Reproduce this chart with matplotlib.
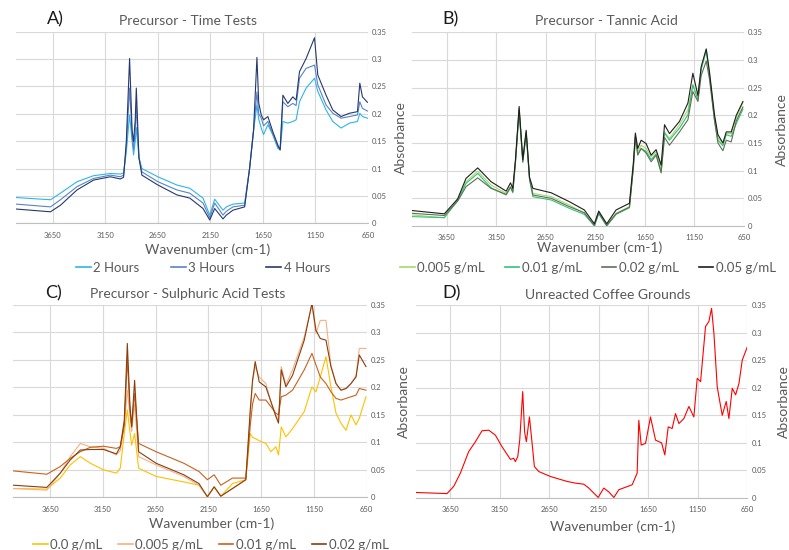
import matplotlib
matplotlib.use("Agg")
import matplotlib.pyplot as plt
from matplotlib.lines import Line2D

plt.rcParams["font.family"] = ["Lato", "DejaVu Sans"]

# ---------------- data ----------------
# Panel A: precursor, time tests
wn_a = [3995, 3672, 3577, 3419, 3261, 3102, 3007, 2976, 2950, 2919,
        2895, 2881, 2865, 2855, 2830, 2802, 2650, 2470, 2346, 2220,
        2156, 2109, 2030, 1998, 1935, 1824, 1777, 1739, 1707, 1690,
        1666, 1644, 1603, 1555, 1508, 1486, 1460, 1413, 1365, 1334,
        1302, 1239, 1159, 1128, 1049, 985, 906, 827, 750, 728,
        703, 655]
a_2h = [0.047, 0.043, 0.055, 0.076, 0.087, 0.091, 0.090, 0.092, 0.130, 0.198,
        0.150, 0.125, 0.150, 0.175, 0.120, 0.100, 0.085, 0.070, 0.064, 0.046,
        0.015, 0.044, 0.024, 0.030, 0.035, 0.037, 0.100, 0.170, 0.216, 0.190,
        0.174, 0.162, 0.180, 0.161, 0.137, 0.134, 0.186, 0.183, 0.186, 0.189,
        0.222, 0.247, 0.265, 0.241, 0.207, 0.186, 0.174, 0.183, 0.186, 0.201,
        0.195, 0.192]
a_3h = [0.035, 0.030, 0.043, 0.067, 0.082, 0.088, 0.085, 0.088, 0.140, 0.247,
        0.160, 0.135, 0.170, 0.215, 0.120, 0.094, 0.076, 0.061, 0.055, 0.037,
        0.010, 0.037, 0.015, 0.022, 0.030, 0.033, 0.100, 0.170, 0.240, 0.200,
        0.192, 0.178, 0.186, 0.163, 0.140, 0.136, 0.222, 0.213, 0.219, 0.215,
        0.265, 0.283, 0.289, 0.253, 0.216, 0.201, 0.192, 0.195, 0.198, 0.222,
        0.210, 0.205]
a_4h = [0.026, 0.021, 0.033, 0.061, 0.079, 0.085, 0.081, 0.084, 0.150, 0.301,
        0.170, 0.149, 0.190, 0.247, 0.120, 0.088, 0.070, 0.052, 0.046, 0.027,
        0.006, 0.027, 0.008, 0.015, 0.024, 0.030, 0.100, 0.170, 0.303, 0.220,
        0.198, 0.189, 0.195, 0.167, 0.143, 0.134, 0.234, 0.219, 0.231, 0.225,
        0.277, 0.301, 0.339, 0.271, 0.234, 0.207, 0.195, 0.201, 0.204, 0.256,
        0.231, 0.221]
labels_a = ["2 Hours", "3 Hours", "4 Hours"]

# Panel B: precursor, tannic acid
wn_b = [4004, 3674, 3539, 3455, 3337, 3202, 3050, 3006, 2983, 2956,
        2919, 2882, 2848, 2814, 2780, 2595, 2413, 2261, 2160, 2116,
        2035, 1941, 1806, 1766, 1746, 1722, 1688, 1638, 1587, 1537,
        1486, 1452, 1402, 1301, 1216, 1166, 1115, 1082, 1031, 998,
        947, 913, 863, 829, 779, 728, 661]
b_005 = [0.020, 0.015, 0.047, 0.080, 0.099, 0.074, 0.059, 0.072, 0.063, 0.117,
         0.212, 0.118, 0.170, 0.086, 0.059, 0.053, 0.038, 0.023, 0.002, 0.024,
         0.002, 0.023, 0.035, 0.110, 0.165, 0.134, 0.146, 0.140, 0.125, 0.134,
         0.104, 0.170, 0.158, 0.183, 0.210, 0.255, 0.231, 0.285, 0.316, 0.274,
         0.196, 0.160, 0.148, 0.167, 0.167, 0.196, 0.223]
b_01 = [0.017, 0.015, 0.046, 0.077, 0.095, 0.069, 0.056, 0.070, 0.060, 0.115,
        0.210, 0.117, 0.168, 0.084, 0.053, 0.047, 0.032, 0.021, 0.000, 0.022,
        0.000, 0.021, 0.033, 0.108, 0.160, 0.130, 0.140, 0.135, 0.120, 0.130,
        0.098, 0.168, 0.155, 0.177, 0.201, 0.255, 0.228, 0.283, 0.318, 0.272,
        0.190, 0.155, 0.145, 0.165, 0.162, 0.185, 0.211]
b_02 = [0.023, 0.019, 0.045, 0.071, 0.087, 0.068, 0.057, 0.070, 0.062, 0.115,
        0.208, 0.115, 0.168, 0.085, 0.056, 0.050, 0.035, 0.024, 0.001, 0.024,
        0.001, 0.022, 0.034, 0.105, 0.160, 0.128, 0.140, 0.132, 0.116, 0.128,
        0.096, 0.160, 0.146, 0.170, 0.192, 0.243, 0.225, 0.272, 0.298, 0.265,
        0.190, 0.150, 0.136, 0.155, 0.152, 0.190, 0.215]
b_05 = [0.028, 0.022, 0.049, 0.086, 0.105, 0.080, 0.063, 0.078, 0.068, 0.120,
        0.216, 0.120, 0.173, 0.088, 0.068, 0.060, 0.044, 0.029, 0.004, 0.027,
        0.004, 0.029, 0.041, 0.115, 0.168, 0.140, 0.155, 0.149, 0.128, 0.138,
        0.110, 0.183, 0.167, 0.189, 0.222, 0.276, 0.236, 0.288, 0.320, 0.278,
        0.200, 0.165, 0.150, 0.170, 0.170, 0.200, 0.225]
labels_b = ["0.005 g/mL", "0.01 g/mL", "0.02 g/mL", "0.05 g/mL"]

# Panel C: precursor, sulphuric acid tests
wn_c = [3998, 3682, 3555, 3460, 3365, 3270, 3144, 3023, 2986, 2948,
        2919, 2895, 2878, 2850, 2812, 2647, 2384, 2240, 2160, 2096,
        2033, 1922, 1796, 1754, 1732, 1707, 1669, 1606, 1558, 1511,
        1486, 1460, 1416, 1353, 1242, 1169, 1131, 1090, 1036, 989,
        941, 894, 846, 799, 751, 720, 657]
c_00 = [0.016, 0.015, 0.035, 0.059, 0.074, 0.062, 0.050, 0.044, 0.053, 0.116,
        0.159, 0.120, 0.095, 0.116, 0.053, 0.038, 0.028, 0.022, 0.001, 0.019,
        0.002, 0.025, 0.032, 0.116, 0.109, 0.107, 0.103, 0.098, 0.083, 0.092,
        0.077, 0.128, 0.110, 0.125, 0.156, 0.201, 0.192, 0.219, 0.256, 0.201,
        0.153, 0.135, 0.122, 0.150, 0.132, 0.144, 0.183]
c_005 = [0.016, 0.013, 0.044, 0.074, 0.098, 0.092, 0.089, 0.077, 0.085, 0.130,
         0.195, 0.150, 0.120, 0.170, 0.074, 0.059, 0.038, 0.022, 0.001, 0.019,
         0.002, 0.016, 0.032, 0.150, 0.210, 0.238, 0.219, 0.207, 0.174, 0.150,
         0.140, 0.238, 0.205, 0.232, 0.292, 0.350, 0.298, 0.322, 0.322, 0.240,
         0.207, 0.195, 0.198, 0.207, 0.222, 0.271, 0.271]
c_01 = [0.048, 0.042, 0.056, 0.071, 0.083, 0.091, 0.093, 0.089, 0.092, 0.130,
        0.253, 0.160, 0.130, 0.189, 0.098, 0.083, 0.062, 0.047, 0.032, 0.041,
        0.022, 0.035, 0.035, 0.130, 0.170, 0.189, 0.177, 0.177, 0.165, 0.153,
        0.150, 0.183, 0.186, 0.195, 0.232, 0.262, 0.241, 0.219, 0.207, 0.192,
        0.180, 0.177, 0.180, 0.183, 0.186, 0.198, 0.195]
c_02 = [0.022, 0.018, 0.044, 0.068, 0.086, 0.087, 0.087, 0.079, 0.092, 0.140,
        0.280, 0.170, 0.128, 0.213, 0.083, 0.062, 0.041, 0.025, 0.001, 0.019,
        0.002, 0.016, 0.032, 0.159, 0.213, 0.247, 0.210, 0.201, 0.174, 0.147,
        0.135, 0.232, 0.201, 0.222, 0.286, 0.353, 0.304, 0.289, 0.286, 0.238,
        0.207, 0.195, 0.198, 0.207, 0.219, 0.259, 0.238]
labels_c = ["0.0 g/mL", "0.005 g/mL", "0.01 g/mL", "0.02 g/mL"]

# Panel D: unreacted coffee grounds
wn_d = [3994, 3684, 3616, 3549, 3465, 3397, 3330, 3262, 3195, 3128,
        3043, 3010, 2993, 2969, 2949, 2919, 2900, 2882, 2851, 2824,
        2801, 2757, 2639, 2470, 2386, 2302, 2251, 2157, 2100, 2049,
        1998, 1948, 1813, 1763, 1746, 1722, 1678, 1628, 1577, 1516,
        1483, 1449, 1409, 1375, 1341, 1291, 1240, 1190, 1156, 1122,
        1072, 1038, 1011, 987, 954, 937, 903, 863, 836, 802,
        768, 734, 701, 650]
d_raw = [0.010, 0.008, 0.021, 0.045, 0.084, 0.102, 0.122, 0.123, 0.114, 0.093,
         0.070, 0.072, 0.066, 0.075, 0.105, 0.193, 0.120, 0.102, 0.147, 0.099,
         0.057, 0.048, 0.039, 0.030, 0.027, 0.025, 0.018, 0.001, 0.018, 0.011,
         0.001, 0.015, 0.024, 0.045, 0.141, 0.096, 0.099, 0.147, 0.105, 0.100,
         0.078, 0.129, 0.126, 0.153, 0.135, 0.144, 0.166, 0.147, 0.217, 0.211,
         0.311, 0.320, 0.344, 0.298, 0.202, 0.184, 0.150, 0.175, 0.144, 0.199,
         0.187, 0.208, 0.250, 0.274]

x_ticks = [3650, 3150, 2650, 2150, 1650, 1150, 650]
y_ticks = [0, 0.05, 0.1, 0.15, 0.2, 0.25, 0.3, 0.35]
y_tick_labels = ["0", "0.05", "0.1", "0.15", "0.2", "0.25", "0.3", "0.35"]

TXT = "#595959"
W, H = 789, 550

fig = plt.figure(figsize=(W / 100, H / 100), dpi=100)


def px_axes(left, top, right, bottom):
    return fig.add_axes([left / W, 1 - bottom / H, (right - left) / W, (bottom - top) / H])


def px_text(x, y, s, **kw):
    fig.text(x / W, 1 - y / H, s, **kw)


def style(ax):
    ax.set_xlim(4000, 650)
    ax.set_ylim(0, 0.35)
    ax.set_xticks(x_ticks)
    ax.set_yticks(y_ticks)
    ax.set_yticklabels(y_tick_labels)
    ax.yaxis.tick_right()
    ax.tick_params(axis="y", length=0, labelsize=5.5, labelcolor=TXT, pad=3)
    ax.tick_params(axis="x", length=0, labelsize=5.5, labelcolor=TXT, pad=6)
    ax.grid(color="#D9D9D9", linewidth=0.8)
    ax.set_axisbelow(True)
    for side in ("top", "left", "right"):
        ax.spines[side].set_visible(False)
    ax.spines["bottom"].set_color("#BFBFBF")
    ax.spines["bottom"].set_linewidth(0.8)


def add_legend(ax, colors, labels, cx, cy, spacing):
    handles = [Line2D([], [], color=c, lw=1.2) for c in colors]
    ax.legend(handles, labels, ncol=len(labels), loc="center",
              bbox_to_anchor=(cx / W, 1 - cy / H), bbox_transform=fig.transFigure,
              frameon=False, fontsize=9.5, labelcolor=TXT, handlelength=1.1,
              handletextpad=0.2, columnspacing=spacing, borderpad=0)


LW = 0.8

# A
ax_a = px_axes(16, 31.7, 368, 223.3)
style(ax_a)
cols_a = ["#2FB4E9", "#5A82C8", "#26396F"]
for ys, c in zip([a_2h, a_3h, a_4h], cols_a):
    ax_a.plot(wn_a, ys, color=c, lw=LW)
add_legend(ax_a, cols_a, labels_a, 203, 268, 2.4)
px_text(188, 21, "Precursor - Time Tests", ha="center", va="center", fontsize=10, color=TXT)
px_text(47, 19, "A)", ha="left", va="center", fontsize=13, color="#1A1A1A")
px_text(208, 250, "Wavenumber (cm-1)", ha="center", va="center", fontsize=10, color=TXT)

# B
ax_b = px_axes(412, 32.3, 744, 226)
style(ax_b)
cols_b = ["#A6D86B", "#35C07A", "#5E7155", "#1E1E1E"]
for ys, c in zip([b_005, b_01, b_02, b_05], cols_b):
    ax_b.plot(wn_b, ys, color=c, lw=LW)
add_legend(ax_b, cols_b, labels_b, 588, 268, 1.5)
px_text(606, 21, "Precursor - Tannic Acid", ha="center", va="center", fontsize=10, color=TXT)
px_text(442, 19, "B)", ha="left", va="center", fontsize=13, color="#1A1A1A")
px_text(600, 248, "Wavenumber (cm-1)", ha="center", va="center", fontsize=10, color=TXT)
px_text(401, 138, "Absorbance", ha="center", va="center", rotation=90, fontsize=10, color=TXT)
px_text(782, 130, "Absorbance", ha="center", va="center", rotation=90, fontsize=10, color=TXT)

# C
ax_c = px_axes(13.3, 305, 366.7, 497.3)
style(ax_c)
cols_c = ["#FFC000", "#F4B183", "#C8621D", "#8A3E0D"]
for ys, c in zip([c_00, c_005, c_01, c_02], cols_c):
    ax_c.plot(wn_c, ys, color=c, lw=LW)
add_legend(ax_c, cols_c, labels_c, 211, 545, 1.2)
px_text(188, 294, "Precursor - Sulphuric Acid Tests", ha="center", va="center", fontsize=10, color=TXT)
px_text(45, 293, "C)", ha="left", va="center", fontsize=13, color="#1A1A1A")
px_text(212, 524, "Wavenumber (cm-1)", ha="center", va="center", fontsize=10, color=TXT)

# D
ax_d = px_axes(415.7, 305, 747.3, 498)
style(ax_d)
ax_d.plot(wn_d, d_raw, color="#FF0000", lw=LW)
px_text(608, 295, "Unreacted Coffee Grounds", ha="center", va="center", fontsize=10, color=TXT)
px_text(442, 293, "D)", ha="left", va="center", fontsize=13, color="#1A1A1A")
px_text(613, 527, "Wavenumber (cm-1)", ha="center", va="center", fontsize=10, color=TXT)
px_text(404, 402, "Absorbance", ha="center", va="center", rotation=90, fontsize=10, color=TXT)
px_text(784, 402, "Absorbance", ha="center", va="center", rotation=90, fontsize=10, color=TXT)

fig.savefig("out.png", dpi=100, facecolor="white")
